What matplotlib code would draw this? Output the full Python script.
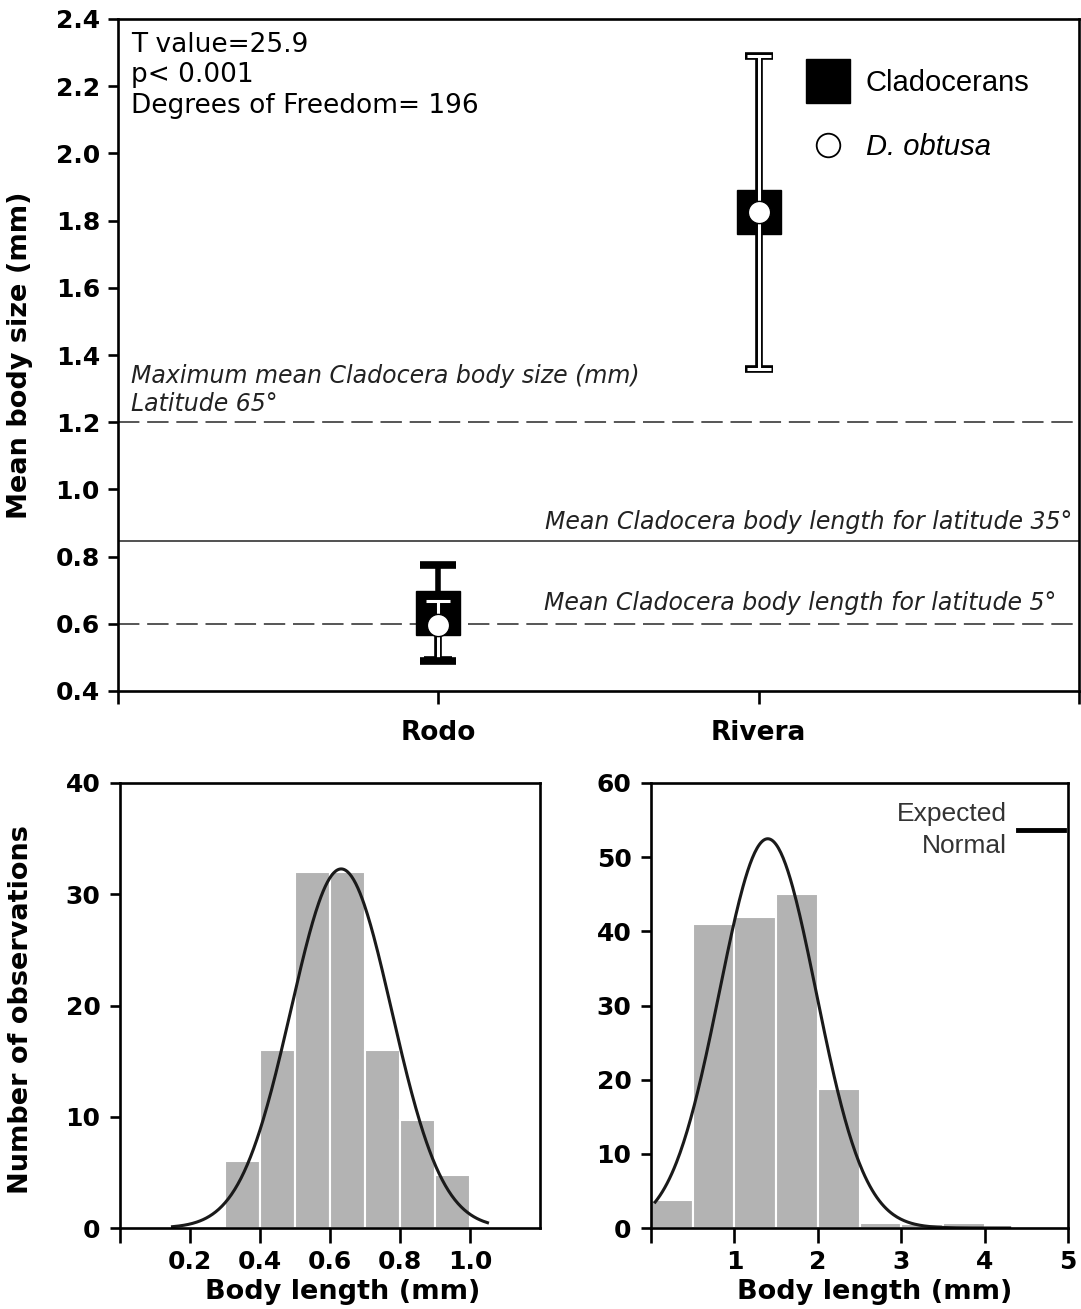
"""
Body size of cladocerans: Rodo vs Rivera, with histograms
"""

import numpy as np
import matplotlib
matplotlib.use('Agg')
import matplotlib.pyplot as plt
from matplotlib.lines import Line2D
from matplotlib.font_manager import FontProperties

plt.rcParams['font.family'] = 'DejaVu Sans'

# --- data ---
sites = ['Rodo', 'Rivera']
site_pos = [1, 2]

clad_mean = [0.632, 1.826]
clad_low = [0.489, None]
clad_high = [0.775, None]

obtusa_mean = [0.596, 1.826]
obtusa_low = [0.492, 1.358]
obtusa_high = [0.667, 2.290]

ref_max_65 = 1.2
ref_lat_35 = 0.845
ref_lat_5 = 0.6

stats_text = "T value=25.9\np< 0.001\nDegrees of Freedom= 196"

# Rodo histogram (bin width 0.1 mm)
rodo_edges = [0.3, 0.4, 0.5, 0.6, 0.7, 0.8, 0.9]
rodo_counts = [6, 16, 32, 32, 16, 9.7, 4.8]
rodo_bin = 0.1
rodo_mu, rodo_sd = 0.632, 0.144
rodo_curve_range = (0.15, 1.05)

# Rivera histogram (bin width 0.5 mm)
rivera_edges = [0.0, 0.5, 1.0, 1.5, 2.0, 2.5, 3.0, 3.5, 4.0]
rivera_counts = [3.8, 41, 42, 45, 18.7, 0.7, 0.5, 0.7, 0.2]
rivera_bin = 0.5
rivera_mu, rivera_sd = 1.40, 0.58
rivera_curve_range = (0.05, 4.3)

GREY = '#b3b3b3'
W, H = 1081, 1309


def rect(x0, y0, x1, y1):
    # pixel box -> figure fraction
    return [x0 / W, 1 - y1 / H, (x1 - x0) / W, (y1 - y0) / H]


def style_axes(ax):
    for s in ax.spines.values():
        s.set_linewidth(1.9)
    ax.tick_params(width=1.9, length=7, labelsize=18, direction='out')
    for lab in ax.get_xticklabels() + ax.get_yticklabels():
        lab.set_fontweight('bold')


def normal_curve(edges, counts, bin_w, mu, sd, rng):
    n = float(np.sum(counts))
    x = np.linspace(rng[0], rng[1], 300)
    y = n * bin_w / (sd * np.sqrt(2 * np.pi)) * np.exp(-0.5 * ((x - mu) / sd) ** 2)
    return x, y


fig = plt.figure(figsize=(W / 100, H / 100), dpi=100)

# ---------------- top panel ----------------
ax = fig.add_axes(rect(118, 19, 1079, 691))
ax.set_xlim(0, 3)
ax.set_ylim(0.4, 2.4)
ax.set_yticks(np.arange(0.4, 2.41, 0.2))
ax.set_yticklabels([f"{v:.1f}" for v in np.arange(0.4, 2.41, 0.2)])
ax.set_xticks([0] + site_pos + [3])
ax.set_xticklabels([''] + sites + [''])
style_axes(ax)
ax.tick_params(axis='x', length=9, pad=12, labelsize=19)
ax.tick_params(axis='y', pad=6)
for lab in ax.get_xticklabels():
    lab.set_fontweight('bold')

dash = (0, (11, 4))
ax.axhline(ref_max_65, color='#555555', lw=1.4, ls=dash, zorder=1)
ax.axhline(ref_lat_5, color='#555555', lw=1.4, ls=dash, zorder=1)
ax.axhline(ref_lat_35, color='#333333', lw=1.2, zorder=1)

ax.text(0.0135, 0.981, stats_text, transform=ax.transAxes, ha='left', va='top',
        fontsize=19, linespacing=1.22)
ax.text(0.0135, 0.487, "Maximum mean Cladocera body size (mm)\nLatitude 65°",
        transform=ax.transAxes, ha='left', va='top', fontsize=17, style='italic',
        linespacing=1.2, color='#222222')
ax.text(2.98, 0.903, "Mean Cladocera body length for latitude 35°", ha='right',
        va='center', fontsize=17, style='italic', color='#222222')
ax.text(2.93, 0.662, "Mean Cladocera body length for latitude 5°", ha='right',
        va='center', fontsize=17, style='italic', color='#222222')

# cladocerans: black whiskers + square (caps re-drawn on top later)
for x, m, lo, hi in zip(site_pos, clad_mean, clad_low, clad_high):
    if lo is not None:
        ax.errorbar([x], [m], yerr=[[m - lo], [hi - m]], fmt='none', ecolor='black',
                    elinewidth=4, capsize=0, zorder=3)
ax.plot(site_pos, clad_mean, 's', color='black', ms=31, zorder=4)

# D. obtusa: outlined white whiskers + white circle
for x, m, lo, hi in zip(site_pos, obtusa_mean, obtusa_low, obtusa_high):
    yerr = [[m - lo], [hi - m]]
    ax.errorbar([x], [m], yerr=yerr, fmt='none', ecolor='black',
                elinewidth=5.5, capsize=10, capthick=5.5, zorder=5)
    ax.errorbar([x], [m], yerr=yerr, fmt='none', ecolor='white',
                elinewidth=2.2, capsize=8.5, capthick=2.2, zorder=6)
ax.plot(site_pos, obtusa_mean, 'o', mfc='white', mec='black', mew=1.0, ms=16, zorder=7)

for x, m, lo, hi in zip(site_pos, clad_mean, clad_low, clad_high):
    if lo is not None:
        ax.errorbar([x], [m], yerr=[[m - lo], [hi - m]], fmt='none', ecolor='black',
                    elinewidth=0, capsize=13, capthick=5.5, zorder=8)

handles = [Line2D([], [], marker='s', ms=31, color='black', ls='none'),
           Line2D([], [], marker='o', ms=17, mfc='white', mec='black', mew=1.3, ls='none')]
leg = ax.legend(handles, ['Cladocerans', 'D. obtusa'], loc='upper left',
                bbox_to_anchor=(0.716, 0.925), bbox_transform=ax.transAxes,
                frameon=False, prop=FontProperties(family='Liberation Sans', size=21),
                handlelength=1.5, handletextpad=0.55, labelspacing=1.22,
                borderpad=0, borderaxespad=0)
leg.get_texts()[1].set_style('italic')

ax.set_ylabel('Mean body size (mm)', fontsize=19.5, fontweight='bold')
ax.yaxis.set_label_coords(-0.088, 0.5)

# ---------------- bottom left: Rodo ----------------
axl = fig.add_axes(rect(120, 783, 540, 1228))
axl.bar(rodo_edges, rodo_counts, width=rodo_bin, align='edge', color=GREY,
        edgecolor='white', linewidth=1.5, zorder=1)
cx, cy = normal_curve(rodo_edges, rodo_counts, rodo_bin, rodo_mu, rodo_sd, rodo_curve_range)
axl.plot(cx, cy, color='#1a1a1a', lw=2.2, zorder=2)
axl.set_xlim(0, 1.2)
axl.set_ylim(0, 40)
axl.set_yticks([0, 10, 20, 30, 40])
axl.set_xticks([0, 0.2, 0.4, 0.6, 0.8, 1.0])
axl.set_xticklabels(['', '0.2', '0.4', '0.6', '0.8', '1.0'])
style_axes(axl)
axl.tick_params(axis='x', length=11, pad=5)
axl.tick_params(axis='y', pad=7)
axl.set_ylabel('Number of observations', fontsize=19.5, fontweight='bold')
axl.yaxis.set_label_coords(-0.205, 0.49)
axl.set_xlabel('Body length (mm)', fontsize=19.5, fontweight='bold')
axl.xaxis.set_label_coords(0.53, -0.115)

# ---------------- bottom right: Rivera ----------------
axr = fig.add_axes(rect(651, 783, 1068, 1228))
axr.bar(rivera_edges, rivera_counts, width=rivera_bin, align='edge', color=GREY,
        edgecolor='white', linewidth=1.5, zorder=1)
cx, cy = normal_curve(rivera_edges, rivera_counts, rivera_bin, rivera_mu, rivera_sd,
                      rivera_curve_range)
axr.plot(cx, cy, color='#1a1a1a', lw=2.2, zorder=2)
axr.set_xlim(0, 5)
axr.set_ylim(0, 60)
axr.set_yticks([0, 10, 20, 30, 40, 50, 60])
axr.set_xticks([0, 1, 2, 3, 4, 5])
axr.set_xticklabels(['', '1', '2', '3', '4', '5'])
style_axes(axr)
axr.tick_params(axis='x', length=11, pad=5)
axr.tick_params(axis='y', pad=7)
axr.set_xlabel('Body length (mm)', fontsize=19.5, fontweight='bold')
axr.xaxis.set_label_coords(0.537, -0.115)

leg2 = axr.legend(handles=[Line2D([], [], color='black', lw=3.5)], labels=['Expected\nNormal'],
                  loc='upper right', bbox_to_anchor=(0.99, 0.958), bbox_transform=axr.transAxes,
                  frameon=False, markerfirst=False,
                  prop=FontProperties(family='Liberation Sans', size=19),
                  handlelength=1.75, handletextpad=0.4, borderpad=0, borderaxespad=0)
for t in leg2.get_texts():
    t.set_multialignment('right')
    t.set_linespacing(1.45)
    t.set_color('#333333')

fig.savefig('out.png', dpi=100)
plt.close(fig)
